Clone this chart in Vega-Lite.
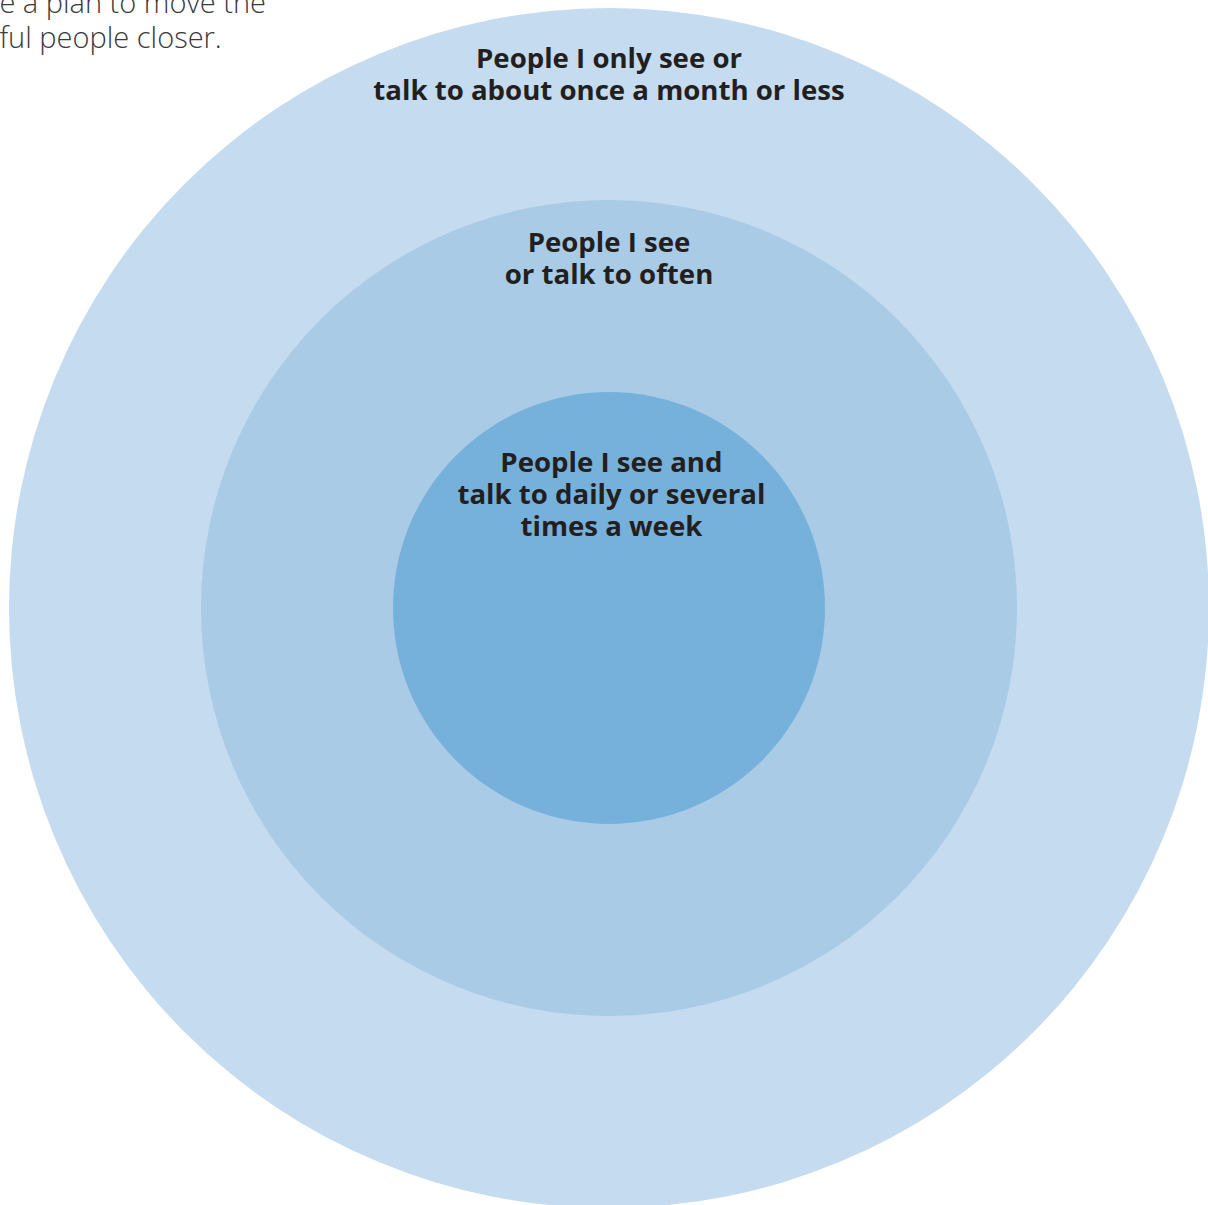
{
  "$schema": "https://vega.github.io/schema/vega-lite/v6.json",
  "width": 1208,
  "height": 1205,
  "padding": 0,
  "autosize": {"type": "none"},
  "background": "white",
  "config": {"view": {"stroke": null}},
  "datasets": {
    "rings": [
      {"ring": "People I only see or talk to about once a month or less", "r": 100},
      {"ring": "People I see or talk to often", "r": 68},
      {"ring": "People I see and talk to daily or several times a week", "r": 36}
    ],
    "labels": [
      {"label": ["People I only see or", "talk to about once a month or less"], "x": 0, "y": 90},
      {"label": ["People I see", "or talk to often"], "x": 0, "y": 59.33},
      {"label": ["People I see and", "talk to daily or several", "times a week"], "x": 0.4, "y": 22.67}
    ],
    "note": [
      {"label": ["e a plan to move the", "ful people closer."], "x": -101.6, "y": 99.17}
    ]
  },
  "layer": [
    {
      "data": {"name": "rings"},
      "mark": {"type": "arc", "theta": 0, "theta2": 6.283185307179586},
      "encoding": {
        "x": {"datum": 0, "type": "quantitative", "scale": {"domain": [-101.5, 99.8333], "nice": false, "zero": false}, "axis": null},
        "y": {"datum": 0, "type": "quantitative", "scale": {"domain": [-99.5, 101.3333], "nice": false, "zero": false}, "axis": null},
        "radius": {"field": "r", "type": "quantitative", "stack": null, "scale": {"type": "linear", "domain": [0, 100], "range": [0, 600], "zero": true}},
        "color": {"field": "ring", "type": "nominal", "sort": null, "legend": null,
          "scale": {"domain": ["People I only see or talk to about once a month or less", "People I see or talk to often", "People I see and talk to daily or several times a week"],
                    "range": ["#c5dbef", "#a9cbe6", "#76b1dc"]}}
      }
    },
    {
      "data": {"name": "labels"},
      "mark": {"type": "text", "font": "Open Sans", "fontWeight": "bold", "fontSize": 27.6, "lineHeight": 32, "align": "center", "baseline": "alphabetic", "color": "#231f20"},
      "encoding": {
        "x": {"field": "x", "type": "quantitative"},
        "y": {"field": "y", "type": "quantitative"},
        "text": {"field": "label"}
      }
    },
    {
      "data": {"name": "note"},
      "mark": {"type": "text", "font": "Open Sans", "fontWeight": 300, "fontSize": 29, "lineHeight": 35, "align": "left", "baseline": "alphabetic", "color": "#3a3a3a"},
      "encoding": {
        "x": {"field": "x", "type": "quantitative"},
        "y": {"field": "y", "type": "quantitative"},
        "text": {"field": "label"}
      }
    }
  ]
}
